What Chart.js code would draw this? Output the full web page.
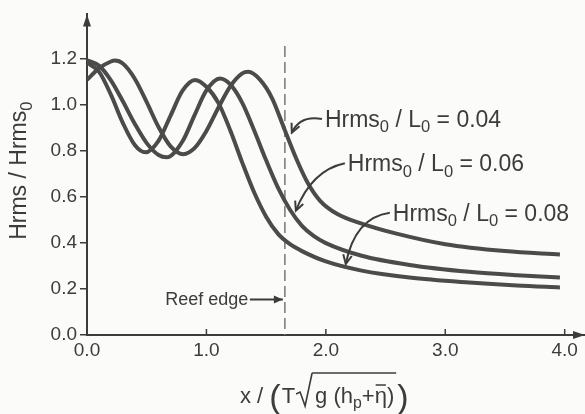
<!DOCTYPE html>
<html><head><meta charset="utf-8">
<script src="https://cdn.jsdelivr.net/npm/chart.js@4"></script>
<style>html,body{margin:0;padding:0;background:#fbfbf9;}canvas{display:block}</style>
</head><body>
<canvas id="c" width="585" height="414"></canvas>
<script>
// ---- data ----
const xTicks = [0, 1, 2, 3, 4];
const yTicks = [0, 0.2, 0.4, 0.6, 0.8, 1.0, 1.2];
const seriesNames = ['Hrms₀ / L₀ = 0.04', 'Hrms₀ / L₀ = 0.06', 'Hrms₀ / L₀ = 0.08'];

const x004 = [0, 0.1, 0.2, 0.234, 0.3, 0.4, 0.5, 0.6, 0.7, 0.806, 0.9, 1.0, 1.1, 1.2, 1.3, 1.35, 1.45, 1.55, 1.65, 1.75, 1.85, 1.95, 2.1, 2.3, 2.6, 3.0, 3.5, 3.96];
const y004 = [1.11, 1.16, 1.19, 1.194, 1.181, 1.115, 1.013, 0.904, 0.821, 0.787, 0.813, 0.888, 0.989, 1.082, 1.138, 1.145, 1.11, 1.03, 0.90, 0.77, 0.66, 0.585, 0.525, 0.485, 0.44, 0.395, 0.365, 0.35];

const x006 = [0, 0.1, 0.2, 0.3, 0.4, 0.5, 0.6, 0.667, 0.8, 0.9, 1.0, 1.113, 1.2, 1.3, 1.4, 1.5, 1.6, 1.7, 1.8, 1.9, 2.0, 2.3, 2.7, 3.2, 3.6, 3.96];
const y006 = [1.195, 1.172, 1.108, 1.017, 0.919, 0.835, 0.783, 0.773, 0.843, 0.956, 1.064, 1.116, 1.09, 1.01, 0.89, 0.76, 0.64, 0.545, 0.475, 0.43, 0.40, 0.345, 0.305, 0.275, 0.26, 0.25];

const x008 = [0, 0.1, 0.2, 0.3, 0.4, 0.49, 0.6, 0.7, 0.8, 0.905, 1.0, 1.1, 1.2, 1.3, 1.4, 1.5, 1.6, 1.7, 1.8, 2.0, 2.3, 2.7, 3.2, 3.6, 3.96];
const y008 = [1.185, 1.146, 1.046, 0.923, 0.827, 0.795, 0.846, 0.955, 1.063, 1.11, 1.08, 1.01, 0.89, 0.75, 0.62, 0.515, 0.44, 0.395, 0.365, 0.32, 0.28, 0.25, 0.228, 0.215, 0.207];

const reefEdgeX = 1.657;
const reefEdgeTop = 1.257;

// label anchors (data units): text start, arrow start, arrow control, arrow tip
const labelAnchors = [
  {tx: 1.992, ty: 0.906, sx: 1.967, sy: 0.940, cx: 1.782, cy: 0.957, ex: 1.715, ey: 0.880},
  {tx: 2.184, ty: 0.712, sx: 2.159, sy: 0.747, cx: 1.883, cy: 0.717, ex: 1.749, ey: 0.541},
  {tx: 2.561, ty: 0.498, sx: 2.536, sy: 0.532, cx: 2.243, cy: 0.511, ex: 2.167, ey: 0.309}
];
const reefLabel = {text: 'Reef edge', tx: 1.35, ty: 0.13, ax0: 1.364, ax1: 1.640, ay: 0.155};

const FF = '"Liberation Sans", Arial, Helvetica, sans-serif';
const INK = '#3c3c3c';
const SUB = {'₀': '0', 'ₚ': 'p'};

function pts(xs, ys) { return xs.map((x, i) => ({x: x, y: ys[i]})); }

function richWidth(ctx, str, size) {
  let w = 0;
  for (const ch of str) {
    if (SUB[ch]) { ctx.font = (size * 0.72) + 'px ' + FF; w += ctx.measureText(SUB[ch]).width; }
    else { ctx.font = size + 'px ' + FF; w += ctx.measureText(ch).width; }
  }
  return w;
}
function richDraw(ctx, str, x, y, size) {
  let cx = x;
  ctx.textAlign = 'left'; ctx.textBaseline = 'alphabetic';
  for (const ch of str) {
    if (SUB[ch]) {
      ctx.font = (size * 0.72) + 'px ' + FF;
      ctx.fillText(SUB[ch], cx, y + size * 0.24);
      cx += ctx.measureText(SUB[ch]).width;
    } else {
      ctx.font = size + 'px ' + FF;
      ctx.fillText(ch, cx, y);
      cx += ctx.measureText(ch).width;
    }
  }
  return cx;
}
function arrowHead(ctx, fx, fy, tx, ty, len) {
  const a = Math.atan2(ty - fy, tx - fx);
  ctx.beginPath();
  ctx.moveTo(tx - len * Math.cos(a - 0.45), ty - len * Math.sin(a - 0.45));
  ctx.lineTo(tx, ty);
  ctx.lineTo(tx - len * Math.cos(a + 0.45), ty - len * Math.sin(a + 0.45));
  ctx.stroke();
}

const decor = {
  id: 'decor',
  beforeDatasetsDraw(chart) {
    const {ctx, scales: {x, y}} = chart;
    ctx.save();
    ctx.strokeStyle = '#777';
    ctx.lineWidth = 1.5;
    ctx.setLineDash([11, 5]);
    ctx.beginPath();
    ctx.moveTo(x.getPixelForValue(reefEdgeX), y.getPixelForValue(reefEdgeTop));
    ctx.lineTo(x.getPixelForValue(reefEdgeX), y.getPixelForValue(0));
    ctx.stroke();
    ctx.restore();
  },
  afterDraw(chart) {
    const {ctx, chartArea: ca, scales: {x, y}} = chart;
    ctx.save();
    ctx.fillStyle = INK; ctx.strokeStyle = INK;
    // axis arrows
    ctx.lineWidth = 2;
    const x0 = x.getPixelForValue(0), y0 = y.getPixelForValue(0);
    ctx.beginPath();
    ctx.moveTo(x0, ca.top); ctx.lineTo(x0 - 4, ca.top + 12); ctx.lineTo(x0 + 4, ca.top + 12); ctx.closePath(); ctx.fill();
    ctx.beginPath();
    ctx.moveTo(ca.right, y0); ctx.lineTo(ca.right - 12, y0 - 4); ctx.lineTo(ca.right - 12, y0 + 4); ctx.closePath(); ctx.fill();
    // x tick marks (inside)
    ctx.lineWidth = 1.5;
    xTicks.forEach(v => {
      const px = x.getPixelForValue(v);
      ctx.beginPath(); ctx.moveTo(px, y0); ctx.lineTo(px, y0 - 6); ctx.stroke();
    });
    // series labels + arrows
    labelAnchors.forEach((a, i) => {
      richDraw(ctx, seriesNames[i], x.getPixelForValue(a.tx), y.getPixelForValue(a.ty), 23);
      const sx = x.getPixelForValue(a.sx), sy = y.getPixelForValue(a.sy);
      const cx = x.getPixelForValue(a.cx), cy = y.getPixelForValue(a.cy);
      const ex = x.getPixelForValue(a.ex), ey = y.getPixelForValue(a.ey);
      ctx.lineWidth = 2;
      ctx.beginPath(); ctx.moveTo(sx, sy); ctx.quadraticCurveTo(cx, cy, ex, ey); ctx.stroke();
      arrowHead(ctx, cx, cy, ex, ey, 10);
    });
    // reef edge label
    ctx.font = '18px ' + FF; ctx.textAlign = 'right'; ctx.textBaseline = 'alphabetic';
    ctx.fillText(reefLabel.text, x.getPixelForValue(reefLabel.tx), y.getPixelForValue(reefLabel.ty));
    const rx0 = x.getPixelForValue(reefLabel.ax0), rx1 = x.getPixelForValue(reefLabel.ax1), ry = y.getPixelForValue(reefLabel.ay);
    ctx.lineWidth = 2;
    ctx.beginPath(); ctx.moveTo(rx0, ry); ctx.lineTo(rx1, ry); ctx.stroke();
    ctx.beginPath(); ctx.moveTo(rx1, ry); ctx.lineTo(rx1 - 9, ry - 4); ctx.lineTo(rx1 - 9, ry + 4); ctx.closePath(); ctx.fill();

    // y title (rotated)
    const ytitle = 'Hrms / Hrms₀';
    const ys = 23;
    const yw = richWidth(ctx, ytitle, ys);
    ctx.save();
    ctx.translate(26, (ca.top + ca.bottom) / 2 - 4);
    ctx.rotate(-Math.PI / 2);
    richDraw(ctx, ytitle, -yw / 2, 0, ys);
    ctx.restore();

    // x title: x / (T √ g (hp+η̄) )
    const fs = 22, big = 34, base = 403;
    ctx.font = fs + 'px ' + FF;
    let cx = 240;
    ctx.textAlign = 'left';
    ctx.fillText('x / ', cx, base); cx += ctx.measureText('x / ').width;
    ctx.font = big + 'px ' + FF;
    ctx.fillText('(', cx, base + 5); cx += ctx.measureText('(').width + 1;
    ctx.font = fs + 'px ' + FF;
    ctx.fillText('T', cx, base); cx += ctx.measureText('T').width + 1;
    // radical
    const rTop = base - 30;
    ctx.lineWidth = 1.6;
    ctx.beginPath();
    ctx.moveTo(cx, base - 9); ctx.lineTo(cx + 4, base - 11); ctx.lineTo(cx + 9, base + 3); ctx.lineTo(cx + 16, rTop);
    const radStart = cx + 16;
    ctx.stroke();
    cx += 19;
    cx = richDraw(ctx, 'g (hₚ+', cx, base, fs);
    ctx.font = fs + 'px ' + FF;
    const etaX = cx;
    ctx.fillText('η', cx, base); const ew = ctx.measureText('η').width; cx += ew;
    ctx.lineWidth = 1.5;
    ctx.beginPath(); ctx.moveTo(etaX + 1, base - 18); ctx.lineTo(etaX + ew - 1, base - 18); ctx.stroke();
    ctx.fillText(')', cx, base); cx += ctx.measureText(')').width + 1;
    ctx.beginPath(); ctx.moveTo(radStart, rTop); ctx.lineTo(cx + 1, rTop); ctx.stroke();
    ctx.font = big + 'px ' + FF;
    ctx.fillText(')', cx + 2, base + 5);
    ctx.restore();
  }
};

const lineStyle = {borderColor: '#4b4b4b', borderWidth: 4, pointRadius: 0, fill: false, cubicInterpolationMode: 'monotone'};

new Chart(document.getElementById('c'), {
  type: 'line',
  data: {
    datasets: [
      Object.assign({label: seriesNames[0], data: pts(x004, y004)}, lineStyle),
      Object.assign({label: seriesNames[1], data: pts(x006, y006)}, lineStyle),
      Object.assign({label: seriesNames[2], data: pts(x008, y008)}, lineStyle)
    ]
  },
  options: {
    responsive: false,
    animation: false,
    layout: {padding: {top: 10, right: 0, bottom: 0, left: 0}},
    plugins: {legend: {display: false}, tooltip: {enabled: false}},
    scales: {
      x: {
        type: 'linear', min: 0, max: 4.17,
        afterBuildTicks: s => { s.ticks = xTicks.map(v => ({value: v})); },
        afterFit: s => { s.height = 79; },
        ticks: {callback: v => v.toFixed(1), font: {family: FF, size: 19}, color: INK, padding: 4, maxRotation: 0},
        grid: {display: true, drawOnChartArea: false, drawTicks: false},
        border: {display: true, color: INK, width: 2}
      },
      y: {
        type: 'linear', min: 0, max: 1.395,
        afterBuildTicks: s => { s.ticks = yTicks.map(v => ({value: v})); },
        afterFit: s => { s.width = 87; },
        ticks: {callback: v => v.toFixed(1), font: {family: FF, size: 19}, color: INK, padding: 3},
        grid: {display: true, drawOnChartArea: false, drawTicks: true, tickLength: 7, color: INK, lineWidth: 1.5},
        border: {display: true, color: INK, width: 2}
      }
    }
  },
  plugins: [decor]
});
</script>
</body></html>
